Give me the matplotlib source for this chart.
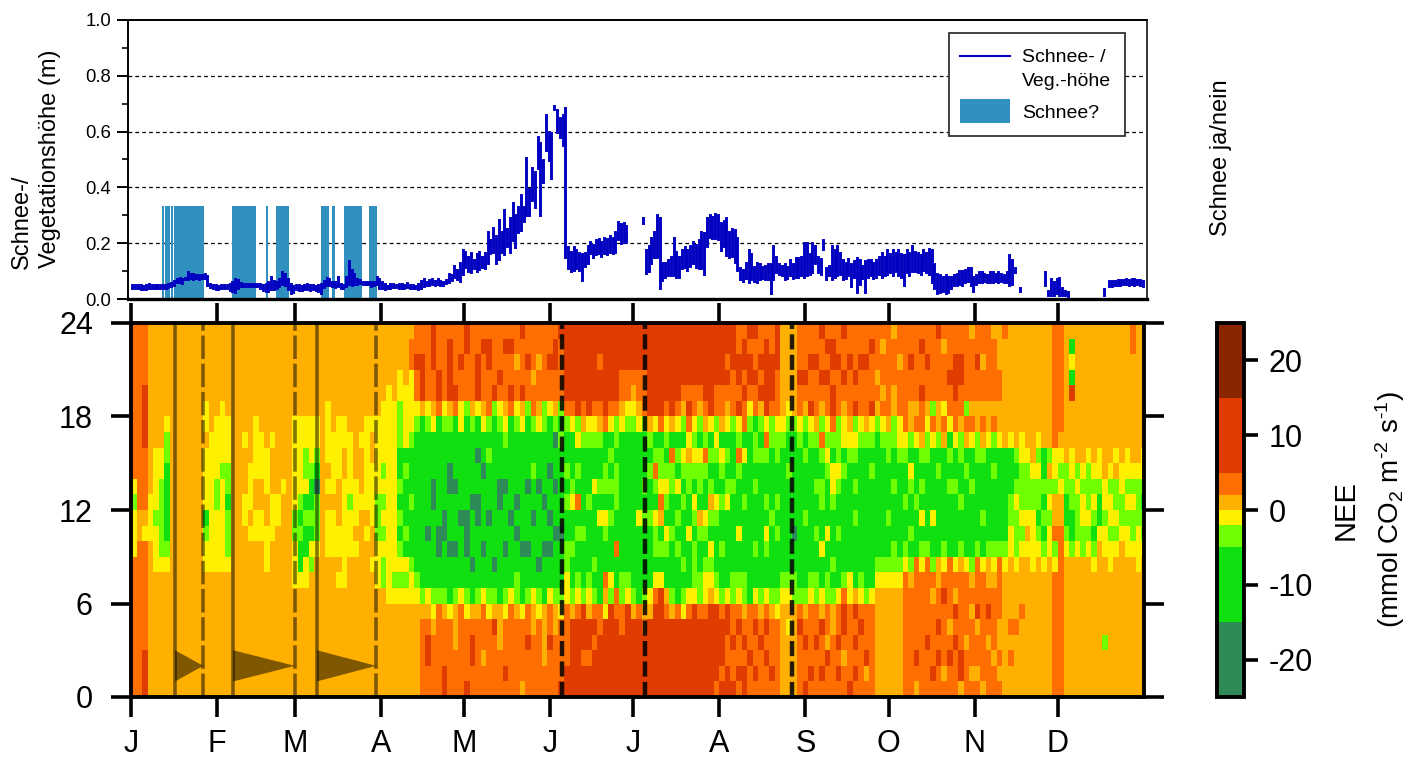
import numpy as np
import matplotlib
matplotlib.use('Agg')
from matplotlib import pyplot as plt
from matplotlib.colors import BoundaryNorm, ListedColormap
from matplotlib.lines import Line2D
from matplotlib.patches import Rectangle

plt.rcParams['font.family'] = ['Liberation Sans', 'DejaVu Sans']
plt.rcParams['mathtext.fontset'] = 'custom'
plt.rcParams['mathtext.rm'] = 'Liberation Sans'
plt.rcParams['mathtext.default'] = 'regular'

MONTH_DAYS = [0, 31, 59, 90, 120, 151, 181, 212, 243, 273, 304, 334]
MONTH_LABELS = ['J', 'F', 'M', 'A', 'M', 'J', 'J', 'A', 'S', 'O', 'N', 'D']

# Schnee ja/nein: Zeitraeume in Tagen
snow_start = [11.3, 12.4, 14.4, 15.5, 36.3, 48.5, 52.3, 68.5, 72.4, 76.6, 85.8]
snow_end = [11.8, 14.1, 15.1, 26.3, 45.2, 49.2, 57.0, 71.5, 73.5, 83.4, 88.6]

# Schnee-/Vegetationshoehe in mm, ein Wert pro Tag, 0 = keine Daten
height_high = [
    50, 50, 50, 50, 48, 50, 52, 50, 50, 50,
    50, 50, 50, 55, 58, 65, 72, 74, 72, 75,
    98, 90, 88, 86, 85, 86, 88, 84, 52, 50,
    50, 48, 50, 50, 50, 55, 62, 72, 68, 58,
    54, 54, 54, 54, 55, 55, 55, 50, 52, 60,
    78, 65, 62, 70, 98, 88, 70, 52, 45, 50,
    50, 48, 50, 52, 50, 50, 48, 50, 55, 66,
    74, 72, 62, 60, 78, 52, 50, 80, 137, 105,
    90, 72, 68, 62, 62, 62, 60, 62, 80, 72,
    60, 52, 48, 55, 52, 50, 55, 54, 50, 56,
    50, 50, 48, 52, 66, 70, 62, 68, 70, 66,
    72, 65, 62, 68, 90, 85, 120, 105, 128, 175,
    170, 150, 165, 140, 160, 170, 150, 165, 240, 210,
    255, 225, 283, 240, 320, 250, 290, 343, 300, 330,
    373, 330, 505, 395, 470, 455, 580, 560, 500, 660,
    600, 595, 690, 677, 650, 660, 683, 187, 170, 185,
    175, 165, 160, 165, 190, 205, 195, 210, 215, 205,
    218, 215, 225, 220, 240, 277, 270, 272, 262, 0,
    0, 0, 0, 0, 290, 175, 190, 218, 240, 300,
    290, 130, 128, 140, 150, 218, 170, 150, 175, 187,
    175, 190, 205, 195, 210, 240, 235, 290, 300, 295,
    305, 300, 272, 280, 290, 240, 250, 247, 218, 110,
    105, 130, 175, 160, 115, 128, 125, 115, 120, 125,
    125, 190, 150, 125, 120, 125, 115, 140, 125, 147,
    147, 150, 200, 200, 160, 200, 190, 150, 145, 210,
    110, 120, 190, 175, 190, 165, 140, 130, 145, 125,
    135, 147, 140, 120, 135, 140, 140, 130, 140, 150,
    165, 150, 175, 160, 175, 165, 175, 160, 157, 175,
    165, 190, 170, 165, 157, 175, 165, 180, 175, 125,
    90, 85, 80, 85, 80, 78, 85, 90, 100, 100,
    105, 110, 110, 80, 85, 95, 95, 90, 85, 95,
    95, 90, 95, 90, 85, 95, 157, 140, 110, 0,
    40, 0, 0, 0, 0, 0, 0, 0, 0, 95,
    30, 70, 60, 70, 75, 40, 30, 25, 0, 0,
    0, 0, 0, 0, 0, 0, 0, 0, 0, 0,
    35, 0, 65, 65, 65, 68, 68, 68, 70, 68,
    70, 70, 68, 68, 65,
]
height_low = [
    40, 40, 38, 36, 36, 36, 38, 40, 40, 38,
    38, 40, 38, 42, 45, 50, 60, 62, 58, 70,
    72, 74, 72, 74, 72, 74, 74, 50, 42, 40,
    36, 36, 40, 40, 38, 32, 30, 26, 38, 48,
    48, 48, 48, 48, 48, 46, 40, 34, 30, 28,
    35, 35, 40, 45, 55, 50, 36, 22, 26, 36,
    34, 32, 36, 36, 34, 36, 32, 28, 22, 44,
    50, 50, 46, 44, 46, 40, 38, 48, 55, 50,
    52, 55, 56, 52, 54, 52, 48, 50, 52, 40,
    38, 36, 38, 40, 44, 42, 40, 40, 38, 44,
    38, 40, 38, 36, 40, 48, 50, 50, 55, 50,
    52, 50, 50, 56, 62, 68, 80, 70, 65, 90,
    115, 100, 95, 110, 100, 108, 115, 110, 130, 165,
    170, 128, 145, 170, 160, 190, 170, 210, 185, 240,
    247, 280, 300, 300, 355, 330, 470, 300, 420, 534,
    500, 433, 680, 600, 580, 552, 150, 110, 100, 105,
    110, 105, 68, 120, 130, 165, 150, 160, 165, 155,
    165, 160, 170, 165, 170, 215, 200, 205, 205, 0,
    0, 0, 0, 0, 272, 93, 100, 128, 150, 150,
    40, 68, 80, 85, 85, 85, 80, 80, 110, 115,
    105, 120, 128, 115, 110, 110, 90, 190, 222, 220,
    220, 215, 175, 190, 157, 150, 155, 133, 104, 70,
    65, 75, 60, 70, 65, 60, 70, 75, 70, 70,
    20, 70, 95, 90, 85, 70, 75, 85, 75, 80,
    80, 85, 80, 85, 90, 95, 130, 95, 90, 180,
    70, 85, 70, 80, 85, 90, 70, 75, 85, 45,
    80, 25, 55, 75, 25, 80, 85, 75, 80, 90,
    80, 85, 90, 95, 85, 100, 85, 80, 50, 95,
    85, 100, 100, 95, 90, 105, 95, 90, 60, 40,
    20, 25, 30, 20, 25, 40, 50, 50, 55, 50,
    60, 65, 50, 30, 55, 60, 60, 65, 60, 60,
    60, 65, 60, 65, 60, 60, 50, 55, 95, 0,
    30, 0, 0, 0, 0, 0, 0, 0, 0, 50,
    15, 15, 15, 20, 15, 15, 15, 12, 0, 0,
    0, 0, 0, 0, 0, 0, 0, 0, 0, 0,
    15, 0, 45, 48, 50, 50, 50, 52, 52, 50,
    52, 50, 52, 50, 48,
]

# NEE-Klassen: eine Zeile = 2 Tage, Zeichen = Stunde 0..23 (Leerzeichen nur zum Lesen)
nee_columns = [
    'fffffffffdddcdffffffffff', 'ffffffffffeeffffffffffff', 'gggfffffffdeffffggggffff',
    'eeeeeeeeeedddeeeeeeeeeee', 'eeeeeeeedddcddddeeeeeeee', 'eeeeeeeedcccccddeeeeeeee',
    'eeeeeeeedcbbbbbccdeeeeee', 'eeeeeeeeeeeeeeeeeeeeeeee', 'eeeeeeeeeeeeeeeeeeeeeeee',
    'eeeeeeeeeeeeeeeeeeeeeeee', 'eeeeeeeeeeeeeeeeeeeeeeee', 'eeeeeeeeeeeeeeeeeeeeeeee',
    'eeeeeeeeeeeeeeeeeeeeeeee', 'eeeeeeeeddcbddddeddeeeee', 'eeeeeeeedddddddddeeeeeee',
    'eeeeeeeeddddccddddeeeeee', 'eeeeeeeeddddddcddddeeeee', 'eeeeeeeedcccbccdddeeeeee',
    'eeeeeeeeeeeeeeeeeeeeeeee', 'eeeeeeeeeeeeeeeeeeeeeeee', 'eeeeeeeeeeeddeeedeeeeeee',
    'eeeeeeeeeededddeeeeeeeee', 'eeeeeeeeeeddeeddddeeeeee', 'eeeeeeeeeeddeedddeeeeeee',
    'eeeeeeeedddeedddeeeeeeee', 'eeeeeeeeeedddeeedeeeeeee', 'eeeeeeeeeeeddeeeeeeeeeee',
    'eeeeeeeeeeeeedeeeeeeeeee', 'eeeeeeeeeeeeeeeeeeeeeeee', 'eeeeeeedddccddddddeeeeee',
    'eeeeeeedbbcbcdddddeeeeee', 'eeeeeeeddbbcbdccddeeeeee', 'eeeeeeeecdbcbbcdddeeeeee',
    'eeeeeeeeedcccabcddeeeeee', 'eeeeeeeeeeeeeeeeeeeeeeee', 'eeeeeeeeedddededdddeeeee',
    'eeeeeeeeedddeddddeeeeeee', 'eeeeeeededdeeeddddeeeeee', 'eeeeeeedddddddeeddeeeeee',
    'eeeeeeeeedddcddddeeeeeee', 'eeeeeeeeededddeeeeeeeeee', 'eeeeeeeeeeeedeeedeeeeeee',
    'eeeeeeeeeededdddddeeeeee', 'eeeeeeeedeeddddeedeeeeee', 'eeeeeeedddcccdddddeeeeee',
    'eeeeeeeccdcdcdcddddeeeee', 'eeeeeeddddddddddddddeeee', 'eeeeeedcdddddddddddeeeee',
    'eeeeeedcdcbcbcbbcccddeee', 'eeeeeedcdbcbbbcbddddeeee', 'eeeeeeddcbbbcbbbcddddffe',
    # Mai
    'eeeee e d cbbbbbbbbb c d ffgff', 'fffff e c bbbbbbbbbb b e gggff', 'ffggf e d bbbabbbbbb c d fffff',
    'ffffe d c bbbbbaabbb d e ffggg', 'fffff f c bbaabbbbbb b f ggfff', 'ggfff e c bbbaabbbbb c d fffff',
    'fffff d b bbabbbaabb c e ggggf', 'fffee e c bbabbbabbb b f gffff', 'fffff f d bbbbabbbbb d d ffgff',
    'gffff d c bbaaabbbbb b c fffgg', 'ffggf e b babbbabbbb c e fffff', 'fffff e c bbbbaabbab b d gggff',
    'ffeff f d bbabbbbabb d e fffgf', 'fffff d c bbbbabbbcb c f ffggf', 'ffffg e c babbbbbbbb b c gffff',
    'fffee e b bbbbbaabbb c d fgfff', 'fgfff d c bbabbbabbc d e fffgf', 'fffff f d bbbbabbbbb b f gffgf',
    'fffff e c cbbababbbb c d ffeff', 'effff d b bbabbbbbbb d e gfffg', 'fffgf f c bbabbbabbb b c ffgff',
    'ffffe e d bbbbabbcbb c f fefff', 'fffff d c babbbbabbb d e ffeff', 'ffeee e b bbabbabbbb c c fffff',
    'fffgf f d bbababbabb b d ffgff', 'ffffe e c bbbabbabba c e ffggf', 'gffff d c bbbabbbbbc b c ffffg',
    # Juni, Juli
    'ggfff f d dccbbcbcbb c f ggggg', 'ggggg e c bbcbbdcbbb d f ggggg', 'ggggg f d cbbcbfbcbd c g ggggg',
    'ggfgg g c bbbcbbbbbc e f ggggg', 'ggfgg e d cbbbbcbbbc d g ggggg', 'gggfg f c bcbbbbdbbc d f ggggg',
    'ggggf f b bbbbdbcbbc e f ggfgg', 'ggggg d e fbbcdbccbb f g ggggg', 'ggggg g c dbbbcbcbcb d f ggggg',
    'ggggg f f bbfbbcccbc c f ggggg', 'ggggf f c cbbbbbbbbb d e ffggg', 'ggggg g d cbbbbbbbbb c d ffggg',
    'ggggg e c bbbbbbbbbb c d efggg', 'ggggg f b bbbbdbbbbb d e ffggg', 'ggggf e c bbbbcbcbbb c f ffggg',
    'ggggg e d bbbbcbbcbc e g ggggg', 'ggggg g f dbccdbcfcb d g ggggg', 'ggggg g g dbcbefdccb f g ggggg',
    'ggggg f e bbcdbcdcbc d f ggggg', 'ggggg e c bbbcbbccfb e g ggggg', 'ggggg f b bbcbcbdbcb d f ggggg',
    'ggggg d c bcbbbcbcdb c e fgggg', 'ggggg f d bbbdbbcced f g fgggg', 'ggggg g d cccbcdbcdc d f fgggg',
    'ggggg f c cbbcebccdb c e fgggg', 'ggggg f d dcbcdbbcfc e f ggggg', 'ggggg g e dcdbcecbcb d g ggggg',
    'fgggg g d cbbbcdbbcd c f fgggg',
    # August
    'gfggg f c bbcbbcbcdb e f fgggg', 'ggffg g d bbbbbdcbcb d e fgfgg', 'gffgf f c cbbbbbcbbb c f ffggg',
    'fgffg f d cbbdbbbcfc d g fggff', 'ggfgf e c cbbbbcbbdb f f gfggf', 'ffgff f b bbbbbbbbbb c d fggfg',
    'fgffg f d bbcbbbcbcc b f fgffg', 'fffgf e c bbbbbbbbcb c e gfgff', 'ffgfg f d bbcdbcbbcf d g ggggf',
    'fgfff e c bbbbcbbbbc c f gggff', 'fffff d c bbbcbcbbcc d f ffggg',
    'eeeee e d cbbbbbbbbc d e eeeee', 'eeeed e d cbbbbbbcbb c d eeeee', 'eeeee e c cbbabbbbbb c e eeeee',
    # September
    'ffffg f c bbbbbbbbbc d f fgfff', 'gffgf e c bbbbcbbbcb c e fgfff', 'fgfff f d cbbbbbbbbc d g ffgff',
    'fffgf f c cbbcbbcbbc e f ffgff', 'fgffg e d bbdbbccbcf c e fgffg', 'ffgef f c cbbdbbbcdc d f fgfgf',
    'ffffe e c bcbbbcddbc f g gfggf', 'fgfgf f d bbbcbbcdcc c f ffgff', 'ffefg g f cbbbbbbcbd d e fgffg',
    'gffff f d dbbbbbbbcd e f ffgff', 'fgfgf g e bbbbcbcbcd c g fgfff', 'ffffg f d cbbbbbbbbc d f ffgff',
    'fegff f c bbbbbbbbbc e f ffgff', 'fffff f d bbbbbbbcbc d g fffgf',
    # Oktober
    'eeeee e e dcbbbbbbbb c e fefff', 'eeeee e e dcbbbbbbbc d f effef', 'eeeee e e dcbbcbbbcc e f fffff',
    'eeeee e e dccbbbcbbc c e efffe', 'eeeee e e dcbbbbbbcd d f ffeff',
    # November
    'ffffffff d cbbcbbc d f ffffff', 'fffffffe c bcbbcdb c e effgff', 'efgfffff f bbbcbbb d f efffff',
    'ffffffff d cbdbcbc e f fgffgf', 'fffgffff f cbbbbbc c d effgff', 'fgffffef c bbdbbbb d f cfffff',
    'ffgfgffe e bbbbbcb c e effffg', 'feffffgf d cbbbbbb e f dfffef', 'ffgfefff f bbbbcbc b d ffgfff',
    'fffgfgef d bbbbcbb d f fgggff', 'eggfffff e cbbcbbc c e ffggff', 'fffeffff d bbbbbcb e f cfffff',
    'fefffefe c bbbbcbb d f effffe', 'feffegff f cbbbbbc c e effgff', 'efffffff d bbcbbbc e f effeff',
    'fffefgfe e cbbbbbb d e efffff', 'ffeffffe d cbbbbcb c f effffe', 'fefeefff f cbbbbbb d e effeee',
    'eeeeeeee d cbbbbbb e e eeeeef', 'eefefeee e ddccbbb d e eeeeee', 'eeeefeee d cccdcbc e e eeeeee',
    'eeeeefee e dcdcccd d e eeeeee', 'eeeeeeee e dedcccd e e eeeeee', 'eeeeeeee d dddccde e e eeeeee',
    'eeeeeeee e dcbccdc d e eeeeee', 'eeeeeeee d cbcbcbb e e eeeeee', 'eeeeeeee e ddcdcec e e eeeeee',
    'ffffffff d cfeecdd f f ffffff', 'ffffffff f ffeedcd e f ffffff',
    # Dezember
    'eeeeeeeee dcbbcc e eeeeeeee', 'eeeeeeeee cbbccd d eeegbdbe', 'eeeeeeeee dcccdc e eeeeeeee',
    'eeeeeeeee ccddcd e eeeeeeee', 'eeeeeeeee dcdccc d eeeeeeee', 'eeeeeeeed cbcdcd e eeeeeeee',
    'eeeeeeeee edbbcd d eeeeeeee', 'eeeceeeee ddcdde e eeeeeeee', 'eeeeeeeed dcddcd e eeeeeeee',
    'eeeeeeeee dcdcce d eeeeeeee', 'eeeeeeeee edccdd e eeeeeeee', 'eeeeeeeee ddcdcd d eeeeeeee',
    'eeeeeeeee dccdcd e eeeeeeff', 'eeeeeeeed ddcccd e eeeeeeee', 'eeeeeeeee dccbcd d eeeeeeee',
]
nee_class_value = {'a': -20, 'b': -10, 'c': -3.5, 'd': -1, 'e': 1, 'f': 3.5, 'g': 10, 'h': 20}
nee_bounds = [-25, -15, -5, -2, 0, 2, 5, 15, 25]
nee_colors = ['#2E8B57', '#10E010', '#70FF00', '#FFF000', '#FFB000', '#FF6E00', '#E03C00', '#8B2500']

# Markierungen im Jahr (Tage)
line_start = [15.9, 36.8, 67.0]
line_stop = [26.0, 59.0, 88.3]
summer_lines = [155.3, 185.2, 238.2]

HEIGHT_COLOR = '#0000C0'
SNOW_COLOR = '#3090C0'
W, H = 1411, 759


def px_axes(fig, left, top, right, bottom):
    return fig.add_axes([left / W, 1 - bottom / H, (right - left) / W, (bottom - top) / H])


def fx(x):
    return x / W


def fy(y):
    return 1 - y / H


def parse_column(col):
    col = col.replace(' ', '')
    col = col.ljust(24, col[-1])[:24]
    return [nee_class_value[ch] for ch in col]


fig = plt.figure(figsize=(W / 100, H / 100), dpi=100)

# --- oben: Schnee-/Vegetationshoehe ---
ax1 = px_axes(fig, 128, 20, 1147, 299)
px_day = (1144 - 131) / 365
ax1.set_xlim(-3 / px_day, 365 + 3 / px_day)
ax1.set_ylim(0, 1)

for y in [0.2, 0.4, 0.6, 0.8]:
    ax1.axhline(y, color='black', lw=0.9, ls=(0, (3, 2.5)), zorder=1)

ax1.bar(snow_start, 0.334, width=np.array(snow_end) - np.array(snow_start),
        align='edge', color=SNOW_COLOR, linewidth=0, zorder=2)

high = np.array(height_high) / 1000
low = np.array(height_low) / 1000
days = np.arange(len(high)) + 0.5
ok = high > 0
ax1.vlines(days[ok], low[ok], high[ok], color=HEIGHT_COLOR, lw=2.1, capstyle='projecting', zorder=3)

ax1.set_xticks([])
ax1.set_yticks(np.arange(0, 1.01, 0.2))
ax1.set_yticks(np.arange(0.1, 1, 0.2), minor=True)
ax1.tick_params(axis='y', which='major', length=8, width=1.4, labelsize=13.3, pad=4)
ax1.tick_params(axis='y', which='minor', length=4, width=1.2)
for s in ax1.spines.values():
    s.set_linewidth(1.4)
ax1.spines['bottom'].set_linewidth(2.4)
ax1.spines['right'].set_color('#333333')

# Legende
fig.add_artist(Rectangle((fx(949), fy(136)), 176 / W, 103 / H, transform=fig.transFigure,
                         facecolor='white', edgecolor='#333333', linewidth=1.3, zorder=5))
fig.add_artist(Line2D([fx(960), fx(1010)], [fy(56), fy(56)], transform=fig.transFigure,
                      color=HEIGHT_COLOR, lw=1.5, zorder=6))
fig.add_artist(Rectangle((fx(960), fy(123)), 50 / W, 24 / H, transform=fig.transFigure,
                         facecolor=SNOW_COLOR, edgecolor='none', zorder=6))
for label, y in zip(['Schnee- /', 'Veg.-höhe', 'Schnee?'], [57, 82, 113]):
    fig.text(fx(1022), fy(y), label, ha='left', va='center', fontsize=14, zorder=7)

fig.text(fx(22), fy(222), 'Schnee-/', rotation=90, ha='center', va='center', fontsize=17)
fig.text(fx(50), fy(159), 'Vegetationshöhe (m)', rotation=90, ha='center', va='center', fontsize=17)
fig.text(fx(1221), fy(158), 'Schnee ja/nein', rotation=90, ha='center', va='center', fontsize=17)

# --- unten: NEE Tagesgang ---
ax2 = px_axes(fig, 131, 323, 1144, 697)
nee = np.array([parse_column(col) for col in nee_columns]).T
cmap = ListedColormap(nee_colors)
norm = BoundaryNorm(nee_bounds, cmap.N)
x_edges = np.arange(nee.shape[1] + 1) * 2
y_edges = np.arange(nee.shape[0] + 1)
mesh = ax2.pcolormesh(x_edges, y_edges, nee, cmap=cmap, norm=norm, antialiased=False, rasterized=True)
ax2.set_xlim(0, 365)
ax2.set_ylim(0, 24)

for d0, d1 in zip(line_start, line_stop):
    ax2.axvline(d0, color='black', alpha=0.5, lw=2.6, zorder=3)
    ax2.plot([d1, d1], [0, 24], color='black', alpha=0.5, lw=2.6, ls=(0, (6.5, 1.3)), zorder=3)
    ax2.fill([d0, d1, d0], [1, 2, 3], color='black', alpha=0.5, linewidth=0, zorder=3)
for d in summer_lines:
    ax2.plot([d, d], [0, 24], color='black', alpha=0.85, lw=3.2, ls=(0, (3.4, 1.2)), zorder=3)

ax2.set_xticks(MONTH_DAYS)
ax2.set_xticklabels(MONTH_LABELS)
ax2.set_yticks([0, 6, 12, 18, 24])
ax2.tick_params(axis='both', which='major', length=14.4, width=2.6, labelsize=22,
                top=True, right=True, bottom=True, left=True)
ax2.tick_params(axis='x', pad=9)
ax2.tick_params(axis='y', pad=13)
for s in ax2.spines.values():
    s.set_linewidth(2.8)

# --- Farbskala ---
cax = px_axes(fig, 1217, 323, 1244, 697)
cb = fig.colorbar(mesh, cax=cax, spacing='proportional', ticks=[-20, -10, 0, 10, 20], drawedges=False)
cb.ax.set_yticklabels(['-20', '-10', '0', '10', '20'])
cb.ax.minorticks_off()
cb.ax.tick_params(length=10, width=2.6, labelsize=22, pad=8)
cb.outline.set_linewidth(2.8)

fig.text(fx(1346), fy(510), 'NEE', rotation=90, ha='center', va='center', fontsize=21)
fig.text(fx(1390), fy(510), '(mmol CO$_2$ m$^{\\text{-}2}$ s$^{\\text{-}1}$)', rotation=90,
         ha='center', va='center', fontsize=20)

plt.savefig('out.png', dpi=100)
